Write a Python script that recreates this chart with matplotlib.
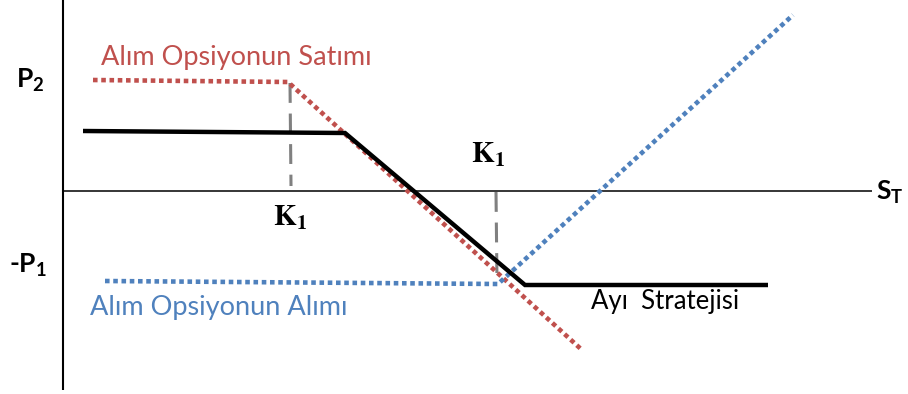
import matplotlib
matplotlib.use("Agg")
import matplotlib.pyplot as plt

plt.rcParams["mathtext.fontset"] = "custom"
plt.rcParams["mathtext.rm"] = "Lato:bold"
plt.rcParams["mathtext.bf"] = "Lato:bold"
plt.rcParams["mathtext.it"] = "Lato:italic"

# Diagram coordinates (x to the right, y downward, in canvas units)
axis_v_x = [63, 63]
axis_v_y = [0, 390]
axis_h_x = [63, 872]
axis_h_y = [191, 191]

# Short call (Alım Opsiyonun Satımı)
short_call_x = [93, 288, 582]
short_call_y = [80, 82, 350]

# Long call (Alım Opsiyonun Alımı)
long_call_x = [105, 498, 793]
long_call_y = [281, 284, 15]

# Bear spread (Ayı Stratejisi)
bear_x = [83, 345, 525, 768]
bear_y = [131, 133, 285, 285]

# Strike guide lines
strike1_x = [290, 291]
strike1_y = [83, 186]
strike2_x = [496, 497]
strike2_y = [192, 282]

RED = "#C0504D"
BLUE = "#4F81BD"
GRAY = "#808080"
SANS = ["Lato", "DejaVu Sans"]

fig = plt.figure(figsize=(9.08, 3.94), dpi=100)
ax = fig.add_axes([0, 0, 1, 1])
ax.set_xlim(0, 908)
ax.set_ylim(394, 0)
ax.axis("off")

ax.plot(axis_v_x, axis_v_y, color="black", lw=1.5, solid_capstyle="butt")
ax.plot(axis_h_x, axis_h_y, color="black", lw=1.1, solid_capstyle="butt")

ax.plot(strike1_x, strike1_y, color=GRAY, lw=2.2, linestyle=(0, (6.5, 3.5)))
ax.plot(strike2_x, strike2_y, color=GRAY, lw=2.2, linestyle=(0, (6.5, 3.5)))

ax.plot(short_call_x, short_call_y, color=RED, lw=3.3,
        linestyle=(0, (1, 0.8)), dash_capstyle="butt")
ax.plot(long_call_x, long_call_y, color=BLUE, lw=3.3,
        linestyle=(0, (1, 0.8)), dash_capstyle="butt")
ax.plot(bear_x, bear_y, color="black", lw=3.2,
        solid_capstyle="butt", solid_joinstyle="miter")

# Labels
ax.text(236, 57, "Alım Opsiyonun Satımı", color=RED, fontsize=19.5,
        family=SANS, ha="center", va="center")
ax.text(219, 308, "Alım Opsiyonun Alımı", color=BLUE, fontsize=19.5,
        family=SANS, ha="center", va="center")
ax.text(665, 302, "Ayı  Stratejisi", color="black", fontsize=18.5,
        family=SANS, ha="center", va="center")

ax.text(30, 80, r"$\mathbf{P_2}$", fontsize=19, ha="center", va="center",
        math_fontfamily="custom")
ax.text(28, 265, r"$\text{-}\mathbf{P_1}$", fontsize=19, ha="center", va="center",
        math_fontfamily="custom")
ax.text(890, 192, r"$\mathbf{S_T}$", fontsize=19, ha="center", va="center",
        math_fontfamily="custom")

ax.text(290, 218, r"$\mathbf{K_1}$", fontsize=21, ha="center", va="center",
        math_fontfamily="stix")
ax.text(488, 155, r"$\mathbf{K_1}$", fontsize=21, ha="center", va="center",
        math_fontfamily="stix")

fig.savefig("out.png", dpi=100)
